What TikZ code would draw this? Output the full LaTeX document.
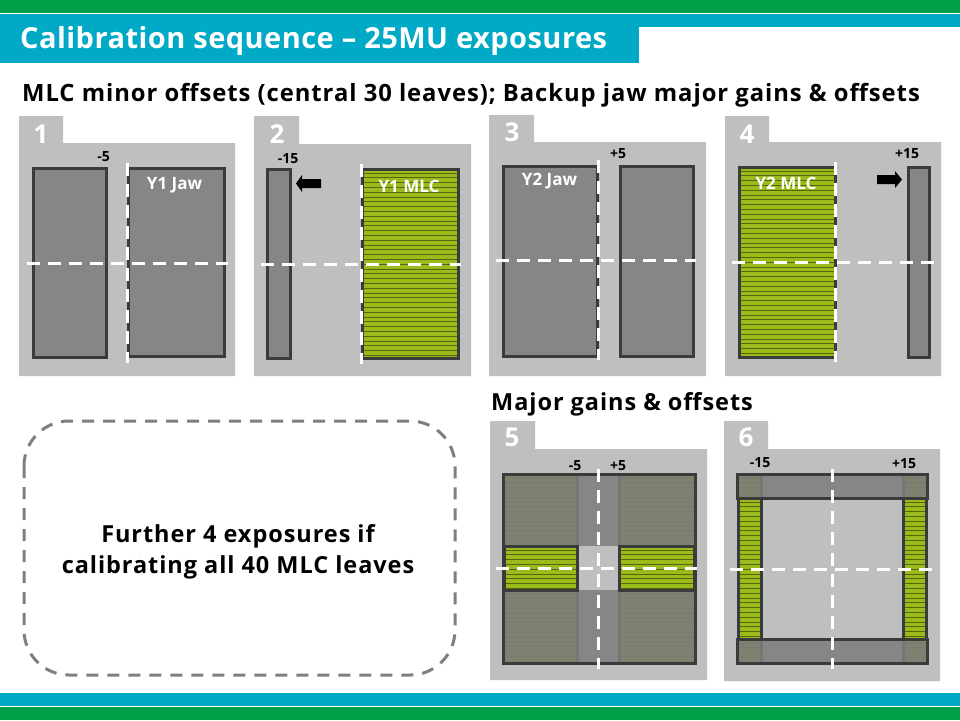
\documentclass[tikz,border=0pt]{standalone}
\usepackage{fontspec}
\setmainfont{Open Sans}
\newfontfamily\hfont[LetterSpace=4]{Open Sans Bold}
\newfontfamily\tfont[LetterSpace=1.6]{Open Sans Bold}
\newfontfamily\lfont{Open Sans Bold}
\definecolor{topgreen}{HTML}{009F4A}
\definecolor{teal}{HTML}{00A9C6}
\definecolor{panelgray}{HTML}{BFBFBF}
\definecolor{jawgray}{HTML}{868686}
\definecolor{edgedark}{HTML}{3B3B3B}
\definecolor{mlcgreen}{HTML}{9ABB1A}
\definecolor{overlap}{HTML}{7F8271}
\definecolor{dashgray}{HTML}{7F7F7F}
\tikzset{
  x=1pt,y=-1pt,
  panelbg/.style={fill=panelgray,draw=none},
  jaw/.style={draw=edgedark,line width=3pt,fill=jawgray},
  frame/.style={draw=edgedark,line width=3pt},
  guide/.style={draw=white,line width=3pt,dash pattern=on 13pt off 8pt},
  tabnum/.style={text=white,font=\lfont\fontsize{26}{26}\selectfont,inner sep=0pt},
  small/.style={text=black,font=\lfont\fontsize{14}{14}\selectfont,inner sep=0pt},
  wlabel/.style={text=white,font=\lfont\fontsize{17}{17}\selectfont,inner sep=0pt},
  heading/.style={text=black,font=\hfont\fontsize{23.5}{24}\selectfont,inner sep=0pt,anchor=west},
  arrowshape/.style={fill=black,draw=none},
}
\newcommand{\panelshape}[6]{%
  \fill[panelbg] (#1,#4) -- (#2,#4) -- (#2,#5) -- (#3,#5) -- (#3,#6) -- (#1,#6) -- cycle;}
\newcommand{\hstripes}[6]{%
  \begin{scope}
  \clip (#1,#2) rectangle (#3,#4);
  \foreach \k in {0,...,45}{
    \draw[#5,line width=#6] (#1,#2+4+4.8*\k) -- (#3,#2+4+4.8*\k);
  }
  \end{scope}}
\newcommand{\mlcbox}[4]{%
  \fill[mlcgreen] (#1,#2) rectangle (#3,#4);
  \hstripes{#1}{#2}{#3}{#4}{black!45!mlcgreen}{0.7pt}
  \draw[frame] (#1,#2) rectangle (#3,#4);}
\begin{document}
\begin{tikzpicture}
\useasboundingbox (0,0) rectangle (960,720);
\fill[white] (0,0) rectangle (960,720);
\fill[topgreen] (0,0) rectangle (960,13);
\fill[teal] (0,14) rectangle (960,27);
\fill[teal] (0,27) rectangle (639,63);
\fill[teal] (0,693) rectangle (960,706);
\fill[topgreen] (0,707) rectangle (960,720);
\node[anchor=west,text=white,inner sep=0pt,font=\tfont\fontsize{29}{30}\selectfont] (title) at (20,41) {Calibration sequence – 25MU exposures};
\node[heading,font=\hfont\fontsize{23.8}{24}\selectfont] (h1) at (22,95) {MLC minor offsets (central 30 leaves); Backup jaw major gains \& offsets};
\node[heading] (h2) at (491,404) {Major gains \& offsets};
\panelshape{19}{63}{235}{116}{143}{376}
\panelshape{254}{299}{471}{116}{144}{376}
\panelshape{489}{534}{706}{115}{142}{376}
\panelshape{725}{769}{941}{116}{142}{376}
\panelshape{490}{535}{707}{421}{449}{680}
\panelshape{724}{768}{940}{421}{449}{681}
\node[tabnum] (n1) at (41,134) {1};
\node[tabnum] (n2) at (277,134) {2};
\node[tabnum] (n3) at (512,132) {3};
\node[tabnum] (n4) at (747,134) {4};
\node[tabnum] (n5) at (512,437) {5};
\node[tabnum] (n6) at (746,437) {6};
% panel 1
\draw[jaw] (33,168) rectangle (106,357);
\draw[jaw] (128,168) rectangle (224,356);
\draw[guide] (127,163) -- (127,363);
\draw[guide] (27,263) -- (228,263);
\node[small] (l1) at (103.5,157) {-5};
\node[wlabel] (t1) at (174.5,185) {Y1 Jaw};
% panel 2
\draw[jaw] (267,169) rectangle (290,358);
\mlcbox{362}{169}{458}{358}
\draw[guide] (361,164) -- (361,364);
\draw[guide] (261,264) -- (461,264);
\node[small] (l2) at (288,159) {-15};
\node[wlabel] (t2) at (409,186) {Y1 MLC};
\fill[arrowshape] (321,179) -- (302,179) -- (302,175) -- (296,183.5) -- (302,192) -- (302,188) -- (321,188) -- cycle;
% panel 3
\draw[jaw] (503,166) rectangle (597,356);
\draw[jaw] (620,166) rectangle (693,356);
\draw[guide] (598,160) -- (598,360);
\draw[guide] (496,260) -- (696,260);
\node[small] (l3) at (618,154) {+5};
\node[wlabel] (t3) at (549.5,181) {Y2 Jaw};
% panel 4
\mlcbox{739}{167}{835}{357}
\draw[jaw] (908,167) rectangle (929,357);
\draw[guide] (835,162) -- (835,362);
\draw[guide] (732,262) -- (934,262);
\node[small] (l4) at (907,154) {+15};
\node[wlabel] (t4) at (786,183) {Y2 MLC};
\fill[arrowshape] (877,175) -- (895,175) -- (895,171) -- (902,179.5) -- (895,188) -- (895,184) -- (877,184) -- cycle;
% panel 5
\fill[jawgray] (503,474) rectangle (695,663);
\fill[overlap] (503,474) rectangle (577,663);
\fill[overlap] (619,474) rectangle (695,663);
\hstripes{503}{474}{577}{546}{overlap!95!black}{0.7pt}
\hstripes{619}{474}{695}{546}{overlap!95!black}{0.7pt}
\hstripes{503}{590}{577}{663}{overlap!95!black}{0.7pt}
\hstripes{619}{590}{695}{663}{overlap!95!black}{0.7pt}
\fill[panelgray] (577,546) rectangle (619,590);
\draw[jawgray!88!black,line width=3pt] (577,474) -- (577,546) (619,474) -- (619,546) (577,590) -- (577,663) (619,590) -- (619,663);
\mlcbox{504}{546}{577}{590}
\mlcbox{619}{546}{694}{590}
\draw[frame] (503,474) rectangle (695,663);
\draw[guide] (598,469) -- (598,669);
\draw[guide] (496,568) -- (697,568);
\node[small] (l5a) at (575,466) {-5};
\node[small] (l5b) at (618,466) {+5};
% panel 6
\fill[jawgray] (737,474) rectangle (927,498);
\fill[jawgray] (737,639) rectangle (927,663);
\foreach \xa/\xb in {737/761,903/927}{
  \fill[overlap] (\xa,474) rectangle (\xb,498);
  \fill[overlap] (\xa,639) rectangle (\xb,663);
  \hstripes{\xa}{474}{\xb}{498}{overlap!95!black}{0.7pt}
  \hstripes{\xa}{639}{\xb}{663}{overlap!95!black}{0.7pt}
}
\draw[jawgray!88!black,line width=3pt] (761,474) -- (761,498) (903,474) -- (903,498) (761,639) -- (761,663) (903,639) -- (903,663);
\draw[frame] (737,474) rectangle (927,498);
\draw[frame] (737,639) rectangle (927,663);
\mlcbox{738}{498}{761}{639}
\mlcbox{903}{498}{926}{639}
\draw[guide] (832,469) -- (832,669);
\draw[guide] (730,569) -- (932,569);
\node[small] (l6a) at (760,463) {-15};
\node[small] (l6b) at (904,464) {+15};
% note
\draw[draw=dashgray,line width=3pt,dash pattern=on 12pt off 9pt,rounded corners=45pt] (24,421) rectangle (455,675);
\node[align=center,text=black,inner sep=0pt,font=\hfont\fontsize{23.5}{31}\selectfont] (note) at (238,552) {Further 4 exposures if\\calibrating all 40 MLC leaves};
\end{tikzpicture}
\end{document}
